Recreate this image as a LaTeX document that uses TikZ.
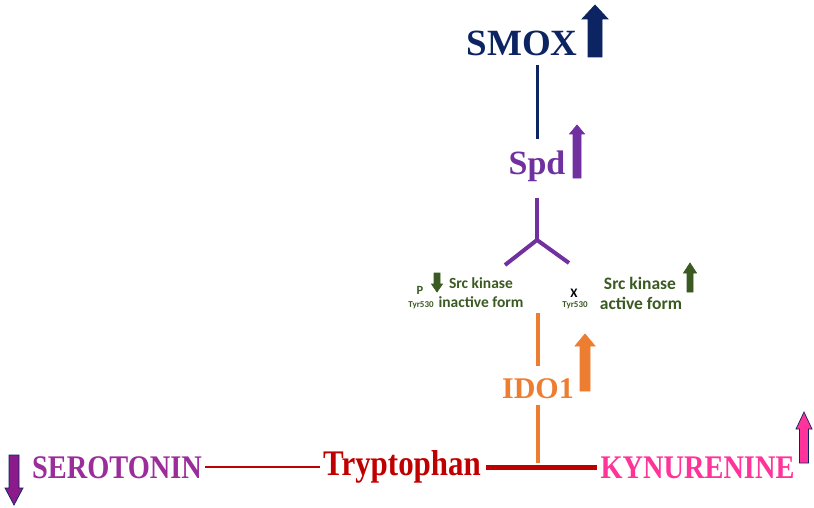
\documentclass[tikz,border=0pt]{standalone}
\usepackage{fontspec}
\setmainfont{Liberation Serif}
\newfontfamily\condserif[FakeStretch=0.86]{Liberation Serif}
\newfontfamily\calib{Carlito}
\usetikzlibrary{calc}
\definecolor{navyc}{HTML}{0C2461}
\definecolor{spdc}{HTML}{7030A0}
\definecolor{orngc}{HTML}{ED7D31}
\definecolor{grnc}{HTML}{3A5A22}
\definecolor{redc}{HTML}{C00000}
\definecolor{seroc}{HTML}{9B2D9B}
\definecolor{kync}{HTML}{FF3399}
\definecolor{darrc}{HTML}{8B1A8B}
% block arrow: x, tail y, head base y, tip y, stem half width, head half width, fill, draw
\newcommand\blockarrow[8]{%
  \filldraw[fill=#7,draw=#8,line width=0.7pt,line join=miter]
    (#1-#5,#2) -- (#1+#5,#2) -- (#1+#5,#3) -- (#1+#6,#3) -- (#1,#4)
    -- (#1-#6,#3) -- (#1-#5,#3) -- cycle;}
\tikzset{
  lbl/.style={inner sep=0pt,anchor=base},
  bigserif/.style={font=\bfseries\fontsize{#1}{#1}\selectfont},
  condtext/.style={font=\condserif\bfseries\fontsize{#1}{#1}\selectfont},
  srctext/.style={text=grnc,font=\calib\bfseries\fontsize{#1}{#1}\selectfont},
  conn/.style={line width=#1,line cap=butt}
}
\begin{document}
\begin{tikzpicture}[x=1pt,y=-1pt]
\useasboundingbox (0,0) rectangle (814,508);

% nodes
\node[lbl,bigserif=37,text=navyc] (smox) at (522,56) {SMOX};
\node[lbl,bigserif=34,text=spdc,inner ysep=12pt] (spd) at (537,175) {Spd};
\node[lbl,bigserif=30,text=orngc] (ido) at (538,398) {IDO1};
\node[lbl,condtext=36,text=redc] (tryp) at (402,475) {Tryptophan};
\node[lbl,condtext=33,text=seroc] (sero) at (117,478) {SEROTONIN};
\node[lbl,condtext=33,text=kync] (kyn) at (697.5,478) {KYNURENINE};

\node[lbl,srctext=15.5] (srcin1) at (481,288) {Src kinase};
\node[lbl,srctext=15.5] (srcin2) at (481,307) {inactive form};
\node[lbl,srctext=12.5] (pin) at (420,294) {P};
\node[lbl,srctext=9] (tyrin) at (421,307) {Tyr530};
\node[lbl,font=\calib\bfseries\fontsize{13}{13}\selectfont,text=black] (xact) at (574,297) {X};
\node[lbl,srctext=9] (tyract) at (575,307) {Tyr530};
\node[lbl,srctext=17.5] (srcact1) at (640,289) {Src kinase};
\node[lbl,srctext=17.5] (srcact2) at (641,309) {active form};

% connector coordinates
\coordinate (smoxfoot) at (537,65);
\coordinate (fork) at (537,240);
\coordinate (forkl) at (505,265);
\coordinate (forkr) at (569,263);
\coordinate (idotop) at (538,313);
\coordinate (kjoin) at (538,463);

% connectors
\draw[conn=3pt,navyc] (smoxfoot) -- (spd.north);
\draw[conn=4pt,spdc,shorten <=3.5pt] (spd.south) -- (fork);
\draw[conn=4pt,spdc,line join=miter] (forkl) -- (fork) -- (forkr);
\draw[conn=3.2pt,orngc,shorten >=11.7pt] (idotop) -- (ido.north);
\draw[conn=3.2pt,orngc,shorten <=6.6pt] (ido.south) -- (kjoin);
\draw[conn=2.2pt,redc,shorten <=3pt,shorten >=3pt] (sero.east) -- (sero.east -| tryp.west);
\draw[conn=5pt,redc,shorten <=5pt,shorten >=3pt] (kyn.west -| tryp.east) -- (kyn.west);

% block arrows
\blockarrow{595}{57}{19}{5}{7}{13}{navyc}{navyc}
\blockarrow{577}{178}{134}{125}{4}{7.5}{spdc}{spdc}
\blockarrow{585}{391}{346}{334}{5}{10}{orngc}{orngc}
\blockarrow{437}{273}{284}{292}{3}{5.5}{grnc}{grnc}
\blockarrow{690}{292}{273}{263}{3}{6.5}{grnc}{grnc}
\blockarrow{804}{463}{429}{412}{4.5}{8}{kync}{navyc}
\blockarrow{14}{455}{488}{505}{5}{9}{darrc}{navyc}
\end{tikzpicture}
\end{document}
